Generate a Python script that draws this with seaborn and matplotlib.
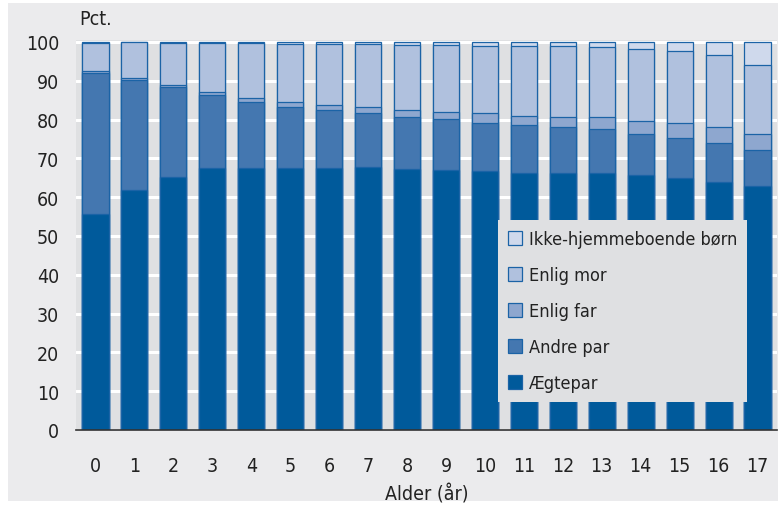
import numpy as np
import pandas as pd
import seaborn as sns
import matplotlib.pyplot as plt
from matplotlib.patches import Rectangle, Patch

# Data (pct. of children by family type, by age)
ages = [str(a) for a in range(18)]
aegtepar = [55.6, 61.8, 65.2, 67.6, 67.6, 67.6, 67.6, 67.8, 67.3, 66.9, 66.7, 66.2, 66.3, 66.2, 65.6, 65.0, 64.0, 62.8]
andre_par = [36.5, 28.4, 23.3, 18.7, 16.9, 15.6, 14.8, 13.9, 13.4, 13.3, 12.5, 12.3, 11.8, 11.4, 10.8, 10.3, 10.0, 9.4]
enlig_far = [0.4, 0.4, 0.5, 0.9, 1.1, 1.3, 1.3, 1.6, 1.8, 1.8, 2.4, 2.5, 2.6, 3.0, 3.2, 3.7, 4.0, 4.2]
enlig_mor = [7.3, 9.3, 10.8, 12.5, 14.1, 14.9, 15.8, 16.1, 16.7, 17.2, 17.4, 18.0, 18.2, 18.0, 18.6, 18.7, 18.6, 17.7]
ikke_hjemme = [0.2, 0.1, 0.2, 0.3, 0.3, 0.6, 0.5, 0.6, 0.8, 0.8, 1.0, 1.0, 1.1, 1.4, 1.8, 2.3, 3.4, 5.9]

series = ['Ægtepar', 'Andre par', 'Enlig far', 'Enlig mor', 'Ikke-hjemmeboende børn']
colors = ['#005a9b', '#4477b0', '#8ea7cf', '#b0c1de', '#cfd9ec']
edge = '#1b63a6'

df = pd.DataFrame({'Alder': ages, 'Ægtepar': aegtepar, 'Andre par': andre_par,
                   'Enlig far': enlig_far, 'Enlig mor': enlig_mor,
                   'Ikke-hjemmeboende børn': ikke_hjemme})
cum = df[series].cumsum(axis=1)

sns.set_theme(style='white')
plt.rcParams['font.family'] = ['Liberation Sans Narrow', 'DejaVu Sans']
plt.rcParams['font.stretch'] = 'condensed'
txt = '#222222'
fs = 14

fig = plt.figure(figsize=(7.82, 5.06), dpi=100, facecolor='white')
fig.patches.append(Rectangle((8 / 782, 4 / 506), 770 / 782, 498 / 506, transform=fig.transFigure,
                             facecolor='#ebebed', edgecolor='none', zorder=-10))
ax = fig.add_axes([76 / 782, (506 - 431) / 506, 701 / 782, 390 / 506])
ax.set_facecolor('#dfe0e2')

# stacked: draw cumulative totals from top down
for name, col in reversed(list(zip(series, colors))):
    sns.barplot(x=df['Alder'], y=cum[name], color=col, width=0.67, edgecolor=edge,
                linewidth=0.9, saturation=1, ax=ax, zorder=3)

ax.set_ylim(0, 100.5)
ax.set_xlim(-0.5, 17.5)
ax.set_yticks(range(0, 101, 10))
ax.yaxis.grid(True, color='white', linewidth=2.2, zorder=0)
ax.set_axisbelow(True)
for s in ['top', 'right', 'left']:
    ax.spines[s].set_visible(False)
ax.spines['bottom'].set_color('#333333')
ax.spines['bottom'].set_linewidth(1.2)
ax.spines['bottom'].set_zorder(5)
ax.tick_params(axis='both', length=0, labelsize=fs, colors=txt)
ax.tick_params(axis='x', pad=19)
ax.tick_params(axis='y', pad=12)
ax.set_xlabel('Alder (år)', fontsize=fs, color=txt, labelpad=6)
ax.set_ylabel('')
ax.text(-0.5 + 0.08, 103.5, 'Pct.', fontsize=fs, color=txt, ha='left', va='bottom')

handles = [Patch(facecolor=c, edgecolor=edge, linewidth=0.9) for c in colors]
leg = ax.legend(handles[::-1], series[::-1], loc='upper left', bbox_to_anchor=(0.602, 0.538),
                frameon=True, fontsize=13, handlelength=0.8, handleheight=0.8,
                labelspacing=1.0, handletextpad=0.35, borderpad=0.55, borderaxespad=0)
leg.get_frame().set_facecolor('#dfe0e2')
leg.get_frame().set_edgecolor('none')
leg.get_frame().set_alpha(1)
leg.get_frame().set_boxstyle('square', pad=0)
leg.set_zorder(10)
for t in leg.get_texts():
    t.set_color(txt)

fig.savefig('out.png', dpi=100, facecolor='white')
